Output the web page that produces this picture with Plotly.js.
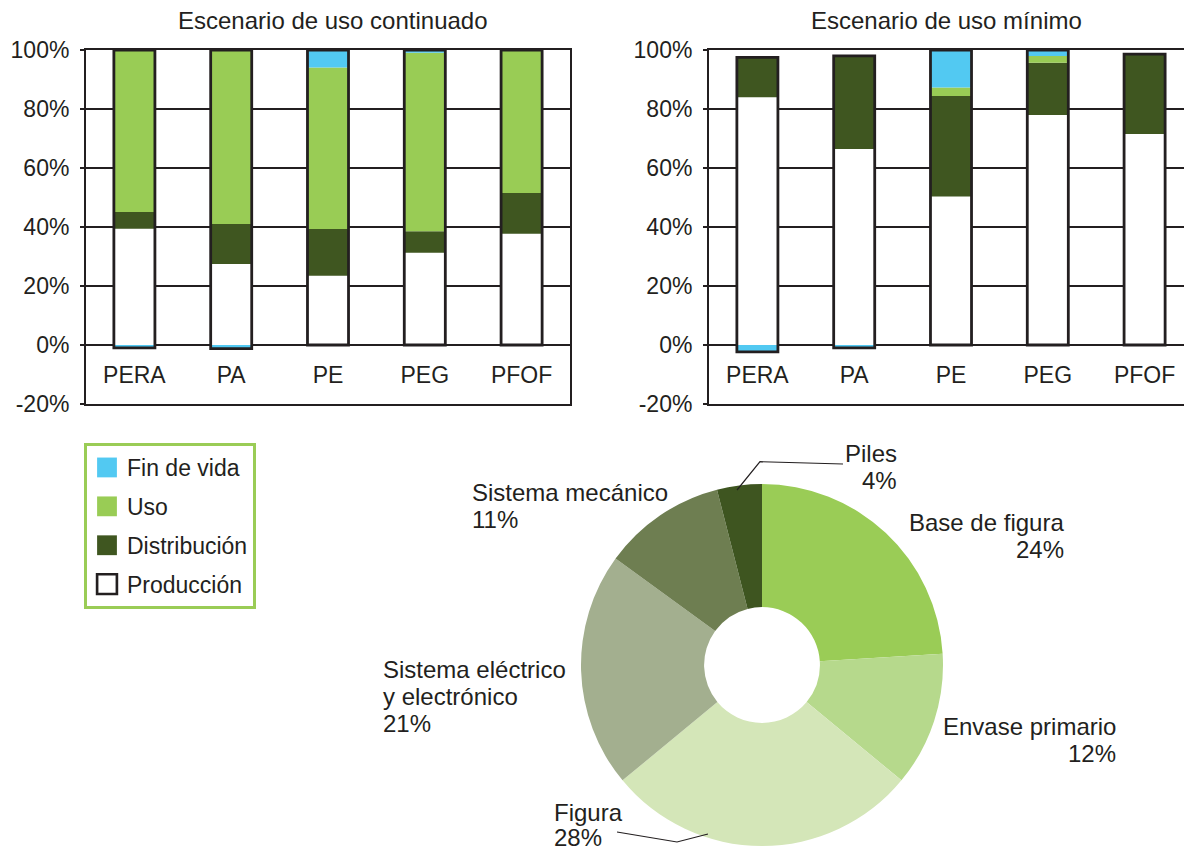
<!DOCTYPE html>
<html>
<head>
<meta charset="utf-8">
<script src="https://cdn.plot.ly/plotly-3.0.1.min.js"></script>
<style>
html, body { margin: 0; padding: 0; background: #ffffff; overflow: hidden; }
#chart { width: 1184px; height: 850px; }
</style>
</head>
<body>
<div id="chart"></div>
<script>
// ---------- DATA ----------
const categories = ['PERA', 'PA', 'PE', 'PEG', 'PFOF'];

// Escenario de uso continuado (%)
const prodCont = [39.4, 27.5, 23.5, 31.3, 37.7];
const distCont = [5.7, 13.5, 15.8, 7.3, 13.8];
const usoCont  = [54.9, 59.0, 54.8, 60.5, 48.5];
const finCont  = [-1.0, -1.2, 5.9, 0.9, 0];

// Escenario de uso mínimo (%)
const prodMin = [84.0, 66.4, 50.3, 78.0, 71.5];
const distMin = [13.5, 31.6, 34.1, 17.7, 27.1];
const usoMin  = [0, 0, 2.9, 2.3, 0];
const finMin  = [-2.3, -1.0, 12.7, 2.0, 0];

const seriesNames = ['Producción', 'Distribución', 'Uso', 'Fin de vida'];
const yTicks = [-20, 0, 20, 40, 60, 80, 100];

// Donut
const pieLabels = ['Base de figura', 'Envase primario', 'Figura', 'Sistema eléctrico y electrónico', 'Sistema mecánico', 'Piles'];
const pieValues = [24, 12, 28, 21, 11, 4];

// ---------- STYLE ----------
const W = 1184, H = 850;
const FONT = '"Liberation Sans", Arial, Helvetica, sans-serif';
const INK = '#231f20';
const FS = 23;
const FS_LBL = 24;
const colProd = '#ffffff', colDist = '#3f5620', colUso = '#99cc55', colFin = '#52c9f2';
const pieColors = ['#9acc56', '#b6d98c', '#d4e6b8', '#a3af8f', '#6e7e51', '#3e5520'];

const px = (x) => x / W;
const py = (y) => 1 - y / H;

function stackTraces(prod, dist, uso, fin, xa, ya, legend) {
  const base = fin.map(v => Math.min(0, v));
  const top = prod.map((v, i) => v + dist[i] + uso[i] + Math.max(0, fin[i]));
  const common = { type: 'bar', x: categories, xaxis: xa, yaxis: ya, hoverinfo: 'skip' };
  return [
    Object.assign({}, common, { name: seriesNames[0], y: prod, marker: { color: colProd, line: { width: 0 } }, showlegend: false }),
    Object.assign({}, common, { name: seriesNames[1], y: dist, marker: { color: colDist, line: { width: 0 } }, showlegend: legend, legendrank: 3, legendgroup: 'd' }),
    Object.assign({}, common, { name: seriesNames[2], y: uso, marker: { color: colUso, line: { width: 0 } }, showlegend: legend, legendrank: 2, legendgroup: 'u' }),
    Object.assign({}, common, { name: seriesNames[3], y: fin, marker: { color: colFin, line: { width: 0 } }, showlegend: legend, legendrank: 1, legendgroup: 'f' }),
    // outline of the whole stacked bar (also gives the "Producción" legend symbol)
    Object.assign({}, common, { name: seriesNames[0], base: base, y: top.map((t, i) => t - base[i]),
      marker: { color: 'rgba(255,255,255,0)', line: { color: INK, width: 2.8 } }, showlegend: legend, legendrank: 4, legendgroup: 'p' }),
    { type: 'scatter', mode: 'text', x: categories, y: categories.map(() => -11), text: categories,
      textfont: { family: FONT, size: FS, color: INK }, xaxis: xa, yaxis: ya, hoverinfo: 'skip', showlegend: false, cliponaxis: false }
  ];
}

const traces = [].concat(
  stackTraces(prodCont, distCont, usoCont, finCont, 'x', 'y', true),
  stackTraces(prodMin, distMin, usoMin, finMin, 'x2', 'y2', false),
  [{
    type: 'pie', labels: pieLabels, values: pieValues, sort: false, direction: 'clockwise', rotation: 0,
    hole: 0.32, textinfo: 'none', hoverinfo: 'skip', showlegend: false,
    marker: { colors: pieColors, line: { width: 0 } },
    domain: { x: [px(581), px(943)], y: [py(846), py(484)] }
  }]
);

const yAxisBase = {
  range: [-20, 100], tickvals: yTicks, ticktext: yTicks.map(v => v + '%'),
  showgrid: true, gridcolor: INK, gridwidth: 2, zeroline: false,
  showline: true, linecolor: INK, linewidth: 2,
  ticks: 'outside', ticklen: 4, tickwidth: 2, tickcolor: INK,
  tickfont: { family: FONT, size: FS, color: INK }, ticklabelstandoff: 6, fixedrange: true
};
const xAxisBase = {
  type: 'category', showgrid: false, zeroline: false, showticklabels: false, ticks: '',
  showline: true, linecolor: INK, linewidth: 2, mirror: true, fixedrange: true
};

function ann(text, x, y, xanchor, size) {
  return { text: text, x: px(x), y: py(y), xref: 'paper', yref: 'paper', xanchor: xanchor, yanchor: 'middle',
           align: xanchor === 'center' ? 'center' : xanchor, showarrow: false,
           font: { family: FONT, size: size || FS_LBL, color: INK } };
}
// label lines for each slice: [lines..., percent]
const pieLines = pieLabels.map((l, i) => l.replace(' y electr', '\ny electr').split('\n').concat([pieValues[i] + '%']));
// anchor x, first line y, x-anchor (layout only)
const pieLabelPos = [
  [1066, 522, 'right'],   // Base de figura
  [1118, 726, 'right'],   // Envase primario
  [552, 812, 'left'],     // Figura
  [381, 669, 'left'],     // Sistema eléctrico y electrónico
  [470, 492, 'left'],     // Sistema mecánico
  [899, 453, 'right']     // Piles
];
const LINE_H = 27;
const pieAnns = [];
pieLines.forEach((lines, i) => {
  const p = pieLabelPos[i];
  lines.forEach((t, k) => pieAnns.push(ann(t, p[0], p[1] + k * (i === 2 ? 25 : LINE_H), p[2])));
});

const layout = {
  width: W, height: H, margin: { l: 0, r: 0, t: 0, b: 0 },
  paper_bgcolor: '#ffffff', plot_bgcolor: '#ffffff',
  font: { family: FONT, size: FS, color: INK },
  barmode: 'relative', bargap: 0.576, hovermode: false,
  xaxis: Object.assign({}, xAxisBase, { domain: [px(86), px(570)], range: [-0.5, 4.5], anchor: 'y' }),
  yaxis: Object.assign({}, yAxisBase, { domain: [py(404), py(50)], anchor: 'x', mirror: true }),
  xaxis2: Object.assign({}, xAxisBase, { domain: [px(709), 1], range: [-0.5, 4.5 - 9 / 96.8], anchor: 'y2' }),
  yaxis2: Object.assign({}, yAxisBase, { domain: [py(404), py(50)], anchor: 'x2', mirror: false }),
  legend: {
    x: px(84), y: py(443), xanchor: 'left', yanchor: 'top',
    bordercolor: '#9acc56', borderwidth: 3, bgcolor: '#ffffff',
    font: { family: FONT, size: FS, color: INK },
    traceorder: 'grouped', tracegroupgap: 6
  },
  annotations: [
    ann('Escenario de uso continuado', 333, 20, 'center', FS_LBL),
    ann('Escenario de uso mínimo', 946, 20, 'center', FS_LBL)
  ].concat(pieAnns),
  shapes: [
    { type: 'path', xref: 'paper', yref: 'paper', line: { color: INK, width: 1.2 },
      path: `M${px(737)},${py(490)} L${px(760)},${py(461.7)} L${px(843)},${py(464)}` },
    { type: 'path', xref: 'paper', yref: 'paper', line: { color: INK, width: 1.2 },
      path: `M${px(617)},${py(832)} L${px(677)},${py(842)} L${px(708)},${py(834)}` }
  ]
};

Plotly.newPlot('chart', traces, layout, { staticPlot: true, displayModeBar: false }).then(function (gd) {
  // enlarge the legend swatches to match the reference's larger squares
  const pts = gd.querySelectorAll('.legend .legendpoints path');
  pts.forEach(function (p) {
    const t = p.getAttribute('transform') || '';
    p.setAttribute('transform', (t + ' scale(1.65)').trim());
    if (p.style.strokeWidth && parseFloat(p.style.strokeWidth) > 0) p.style.strokeWidth = '1.6px';
  });
});
</script>
</body>
</html>
